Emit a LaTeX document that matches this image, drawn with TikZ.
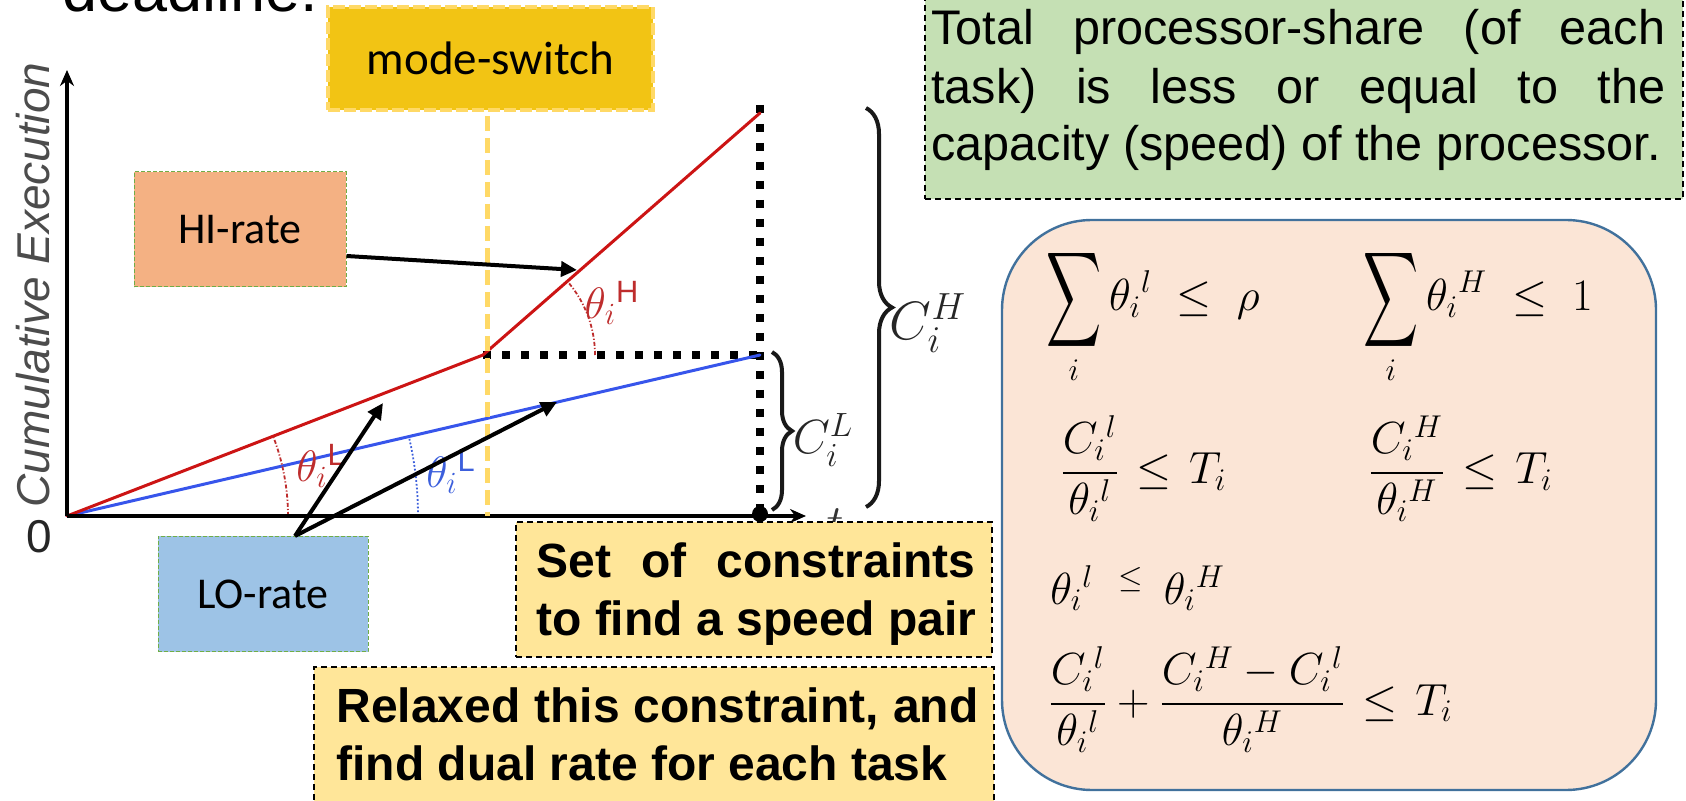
\RequirePackage{fix-cm}
\documentclass[tikz,border=0pt]{standalone}
\usepackage{fontspec}
\usepackage{amsmath}
\usepackage{graphicx}
\setmainfont{Liberation Sans}
\newfontfamily\calibri{Carlito}
\usetikzlibrary{arrows.meta,decorations.pathreplacing,calc}

\definecolor{modeY}{RGB}{242,196,20}
\definecolor{modeB}{RGB}{255,217,102}
\definecolor{hiF}{RGB}{244,177,131}
\definecolor{loF}{RGB}{157,195,230}
\definecolor{grnB}{RGB}{112,173,71}
\definecolor{noteF}{RGB}{255,230,153}
\definecolor{greenF}{RGB}{197,224,180}
\definecolor{mathF}{RGB}{251,229,214}
\definecolor{mathB}{RGB}{65,113,156}
\definecolor{redL}{RGB}{204,20,20}
\definecolor{blueL}{RGB}{55,85,235}
\definecolor{redT}{RGB}{190,45,45}
\definecolor{blueT}{RGB}{60,95,220}

\newcommand{\mysum}{\mathop{\vcenter{\hbox{\scalebox{0.92}[1.6]{$\displaystyle\sum$}}}}\limits}
\newcommand{\wideRel}{\thickmuskip=7mu\relax}
\newcommand{\wideRelB}{\thickmuskip=10mu\relax}

\tikzset{
  box/.style={rectangle, inner sep=0pt},
  ratebox/.style={box, draw=grnB, line width=0.5pt, dash pattern=on 2pt off 1pt},
  notebox/.style={box, draw=black, line width=0.75pt, dash pattern=on 3pt off 2pt},
  txt/.style={inner sep=0pt, anchor=base west},
  calfont/.style={font=\calibri\fontsize{22}{26}\selectfont},
  greentxt/.style={txt, font=\fontsize{24.3}{28}\selectfont},
  boldtxt/.style={txt, font=\bfseries\fontsize{24}{28}\selectfont},
  mathtxt/.style={txt, font=\fontsize{22.5}{27}\selectfont},
  curve/.style={line width=1.5pt, line cap=round, line join=round},
  dotblk/.style={line width=4pt, dash pattern=on 4pt off 5.5pt},
  axisline/.style={line width=2pt, -{Stealth[length=8pt,width=7pt]}},
  pointer/.style={line width=2pt, -{Triangle[length=8pt,width=7.5pt]}},
  anglearc/.style={line width=0.9pt, dash pattern=on 2pt off 1pt on 0.6pt off 1pt},
  brc/.style={decorate, line width=2pt, black!90},
  anglab/.style={inner sep=0pt, font=\fontsize{22}{26}\selectfont},
}

\begin{document}
\begin{tikzpicture}[x=0.5pt,y=-0.5pt]
\useasboundingbox (0,0) rectangle (1686,801);
\clip (0,0) rectangle (1686,801);

% heading fragment
\node[txt, font=\fontsize{31.5}{36}\selectfont] (dl) at (62,12) {deadline.};

% key points of the graph
\coordinate (O) at (67,516);
\coordinate (K) at (483,355);
\coordinate (T) at (760,113);
\coordinate (B) at (760,355);
\coordinate (D) at (760,514);
\coordinate (Vtop) at (760,105);
\coordinate (ytop) at (67,70);
\coordinate (xend) at (806,516);
\coordinate (msbot) at (487,116);
\coordinate (msaxis) at (487,516);

% dotted guide lines
\draw[dotblk] (K) -- (B);
\draw[dotblk] (Vtop) -- (D);

% rate lines
\draw[curve, blueL] (O) -- (B);
\draw[curve, redL] (O) -- (K) -- (T);

% angle arcs
\draw[anglearc, redT] ($(K)+(112,0)$) arc[start angle=0, end angle=-41.1, radius=112];
\draw[anglearc, redT] ($(O)+(221,0)$) arc[start angle=0, end angle=-21.2, radius=221];
\draw[blueT, line width=0.9pt, densely dotted] ($(O)+(351,0)$) arc[start angle=0, end angle=-13.1, radius=351];

% angle labels
\node[anglab, text=redT] (thH) at (612,303) {$\theta_{i}{}^{\text{H}}$};
\node[anglab, text=redT] (thLr) at (321,466) {$\theta_{i}{}^{\text{L}}$};
\node[anglab, text=blueT] (thLb) at (451,472) {$\theta_{i}{}^{\text{L}}$};

% axes
\draw[axisline] (O) -- (ytop);
\draw[axisline] (O) -- (xend);
\fill (D) circle[radius=8];
\node[font=\fontsize{23}{26}\selectfont, text=black!85] (zero) at (39,537) {0};
\node[font=\fontsize{24}{28}\selectfont, text=black!80] (tlab) at (835,524) {$t$};
\node[rotate=90, anchor=base, inner sep=0pt, font=\itshape\fontsize{23}{27}\selectfont, text=black!70] (ylab) at (49,285) {Cumulative Execution};

% mode switch line
\draw[modeB, line width=2.5pt, dash pattern=on 7.5pt off 3.5pt] (msbot) -- (msaxis);

% braces
\draw[brc, decoration={brace, amplitude=10pt}] (772,352) -- (772,510);
\draw[brc, decoration={brace, amplitude=13pt}] (866,108) -- (866,507);
\node[inner sep=0pt, font=\fontsize{24}{28}\selectfont, text=black!85] (CL) at (823,440) {$C_i^L$};
\node[inner sep=0pt, font=\fontsize{27}{31}\selectfont, text=black!85] (CH) at (928,323) {$C_i^H$};

% boxes
\node[box, fill=modeY, draw=modeB, line width=2pt, dash pattern=on 6pt off 2pt,
      minimum width=162.5pt, minimum height=51.5pt, font=\calibri\fontsize{23.5}{27}\selectfont] (ms) at (490.5,58.5) {mode-switch};
\node[ratebox, fill=hiF, minimum width=106pt, minimum height=57.5pt, calfont] (hi) at (240,229.5) {HI-rate};
\node[ratebox, fill=loF, minimum width=105pt, minimum height=57.5pt, calfont] (lo) at (263,594) {LO-rate};

\coordinate (hitip) at (577,270);
\coordinate (lotipA) at (383,403);
\coordinate (lotipB) at (557,402);
\draw[pointer] ([yshift=-13.25pt]hi.east) -- (hitip);
\draw[pointer] ([xshift=16pt]lo.north) -- (lotipA);
\draw[pointer] ([xshift=16pt]lo.north) -- (lotipB);

\node[notebox, fill=noteF, minimum width=238pt, minimum height=67.5pt] (setbox) at (754,589.5) {};
\node[boldtxt] (s1) at (536,577) {\makebox[219.5pt][s]{Set of constraints}};
\node[boldtxt] (s2) at (536,635) {to find a speed pair};

\node[notebox, fill=noteF, minimum width=340pt, minimum height=81.5pt] (relbox) at (654,748.5) {};
\node[boldtxt] (r1) at (336,722) {\makebox[321pt][s]{Relaxed this constraint, and}};
\node[boldtxt] (r2) at (336,780) {find dual rate for each task};

\node[notebox, fill=greenF, minimum width=379pt, minimum height=114.5pt] (grnbox) at (1304,84.5) {};
\node[greentxt] (g1) at (931,45) {\makebox[367pt][s]{Total processor-share (of each}};
\node[greentxt] (g2) at (931,104) {\makebox[367pt][s]{task) is less or equal to the}};
\node[greentxt] (g3) at (931,161) {capacity (speed) of the processor.};

% constraint box
\node[box, fill=mathF, draw=mathB, line width=1.2pt, rounded corners=45pt,
      minimum width=327pt, minimum height=285pt] (mathbox) at (1329,505) {};
\node[mathtxt] (m1) at (1046,311) {$\wideRelB\displaystyle\mysum_{i}\theta_i{}^{l}\le\rho$};
\node[mathtxt] (m2) at (1363,311) {$\wideRelB\displaystyle\mysum_{i}\theta_i{}^{H}\le 1$};
\node[mathtxt] (m3) at (1060,484) {$\wideRel\dfrac{C_i{}^{l}}{\theta_i{}^{l}}\le T_i$};
\node[mathtxt] (m4) at (1368,484) {$\wideRel\dfrac{C_i{}^{H}}{\theta_i{}^{H}}\le T_i$};
\node[mathtxt] (m5) at (1050,604) {$\theta_i{}^{l}\hspace{0.55em}{}^{\le}\hspace{0.45em}\theta_i{}^{H}$};
\node[mathtxt] (m6) at (1048,715) {$\wideRel\dfrac{C_i{}^{l}}{\theta_i{}^{l}}+\dfrac{C_i{}^{H}-C_i{}^{l}}{\theta_i{}^{H}}\le T_i$};
\end{tikzpicture}
\end{document}
